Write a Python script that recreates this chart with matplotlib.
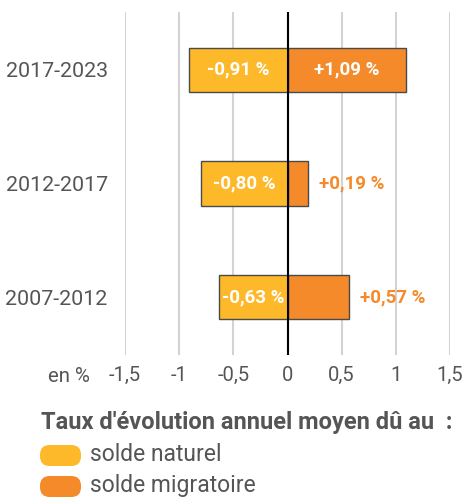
import matplotlib
matplotlib.use("Agg")
import matplotlib.pyplot as plt
from matplotlib.patches import FancyBboxPatch

plt.rcParams['font.family'] = ['Roboto', 'DejaVu Sans']

periods = ["2017-2023", "2012-2017", "2007-2012"]
naturel = [-0.91, -0.80, -0.63]
migratoire = [1.09, 0.19, 0.57]
nat_labels = ["-0,91 %", "-0,80 %", "-0,63 %"]
mig_labels = ["+1,09 %", "+0,19 %", "+0,57 %"]
xticks = [-1.5, -1, -0.5, 0, 0.5, 1, 1.5]
xtick_labels = ["-1,5", "-1", "-0,5", "0", "0,5", "1", "1,5"]
legend_title = "Taux d'évolution annuel moyen dû au  :"
legend_names = ["solde naturel", "solde migratoire"]

YELLOW = "#FDB92A"
ORANGE = "#F48A2A"
GRAY = "#555555"

fig = plt.figure(figsize=(4.62, 5.0), dpi=100)
ax = fig.add_axes([125/462, 1-355/500, (450-125)/462, (355-12)/500])

ypos = [2, 1, 0]
h = 0.39
ax.barh(ypos, naturel, height=h, color=YELLOW, edgecolor="#4a4a4a", linewidth=1, zorder=3)
ax.barh(ypos, migratoire, height=h, color=ORANGE, edgecolor="#4a4a4a", linewidth=1, zorder=3)

for y, v, lab in zip(ypos, naturel, nat_labels):
    ax.text(v/2, y, lab, ha="center", va="center", color="white",
            fontsize=13.5, fontweight="bold", zorder=5)
for y, v, lab in zip(ypos, migratoire, mig_labels):
    if v > 0.7:
        ax.text(v/2, y, lab, ha="center", va="center", color="white",
                fontsize=13.5, fontweight="bold", zorder=5)
    else:
        ax.text(v + 0.1, y, lab, ha="left", va="center", color=ORANGE,
                fontsize=13.5, fontweight="bold", zorder=5)

ax.set_xlim(-1.5, 1.5)
ax.set_ylim(-0.51, 2.51)
ax.set_xticks(xticks)
ax.set_xticklabels(xtick_labels)
ax.set_yticks(ypos)
ax.set_yticklabels(periods)
ax.tick_params(axis="both", length=0, colors=GRAY)
ax.tick_params(axis="x", pad=8, labelsize=14.5)
ax.tick_params(axis="y", pad=12.5, labelsize=15.4)
for s in ax.spines.values():
    s.set_visible(False)
ax.grid(axis="x", color="#d3d3d3", linewidth=1.5, zorder=0)
ax.axvline(0, color="black", linewidth=1.5, zorder=4)

fig.text(48/462, 1-377/500, "en %", ha="left", va="center", fontsize=14.7, color=GRAY)

fig.text(41/462, 1-423/500, legend_title, ha="left", va="center", fontsize=17,
         fontweight="bold", color=GRAY)
for i, (name, col) in enumerate(zip(legend_names, [YELLOW, ORANGE])):
    yc = 455.5 + i*31
    p = FancyBboxPatch((40/462, 1-(yc+10.5)/500), 41/462, 21/500,
                       boxstyle="round,pad=0,rounding_size=0.021",
                       transform=fig.transFigure, facecolor=col, edgecolor="none",
                       mutation_aspect=462/500)
    fig.patches.append(p)
    fig.text(90/462, 1-(yc-1)/500, name, ha="left", va="center", fontsize=16.5, color=GRAY)

fig.savefig("out.png", dpi=100)
